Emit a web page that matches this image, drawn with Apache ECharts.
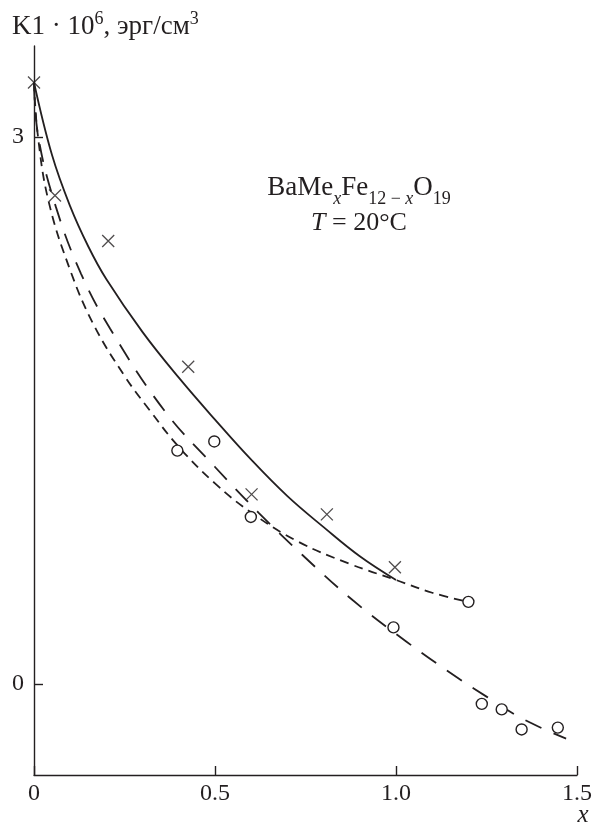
<!DOCTYPE html>
<html>
<head>
<meta charset="utf-8">
<script src="https://cdn.jsdelivr.net/npm/echarts@6/dist/echarts.min.js"></script>
<style>
  html, body { margin: 0; padding: 0; background: #fff; }
  #chart { width: 595px; height: 829px; }
</style>
</head>
<body>
<div id="chart"></div>
<script>
// y ticks (only 0 and 3 are marked)
const yTicks = [0, 3]

// measured points (x, K1·10^6)
const crossPoints = [[0, 3.30], [0.058, 2.68], [0.205, 2.43], [0.426, 1.74], [0.601, 1.04], [0.809, 0.93], [0.997, 0.64]]
const circlePoints = [[0.396, 1.28], [0.498, 1.33], [0.599, 0.916], [0.993, 0.31], [1.2, 0.45], [1.237, -0.11], [1.292, -0.14], [1.347, -0.25], [1.447, -0.24]]

// curves
const solidCurve = [[0, 3.30], [0.05, 2.90], [0.10, 2.62], [0.15, 2.40], [0.20, 2.22], [0.30, 1.93], [0.40, 1.68], [0.50, 1.45], [0.60, 1.23], [0.70, 1.03], [0.80, 0.86], [0.90, 0.70], [1.0, 0.57]]
const shortDashCurve = [[0, 3.30], [0.01, 3.02], [0.04, 2.65], [0.10, 2.27], [0.165, 1.97], [0.25, 1.69], [0.32, 1.50], [0.40, 1.30], [0.50, 1.10], [0.60, 0.94], [0.73, 0.78], [0.87, 0.66], [1.0, 0.57], [1.1, 0.50], [1.2, 0.45]]
const longDashCurve = [[0, 3.30], [0.012, 3.0], [0.06, 2.62], [0.13, 2.25], [0.21, 1.95], [0.36, 1.50], [0.50, 1.19], [0.62, 0.94], [0.74, 0.71], [0.88, 0.46], [1.03, 0.23], [1.18, 0.02], [1.25, -0.07], [1.33, -0.17], [1.41, -0.25], [1.47, -0.30]]

const ink = '#231f20'
const font = 'Liberation Serif'

const chart = echarts.init(document.getElementById('chart'))

const lineSeries = (data, dash) => ({
  type: 'line',
  data: data,
  smooth: 0.4,
  symbol: 'none',
  silent: true,
  lineStyle: { color: ink, width: 1.8, type: dash }
})

chart.setOption({
  animation: false,
  grid: { left: 34, right: 18, top: 46, bottom: 54 },
  xAxis: {
    type: 'value',
    min: 0,
    max: 1.5,
    interval: 0.5,
    axisLine: { onZero: false, lineStyle: { color: ink, width: 1.4 } },
    axisTick: { inside: true, length: 9, lineStyle: { color: ink, width: 1.4 } },
    splitLine: { show: false },
    axisLabel: {
      color: ink,
      fontFamily: font,
      fontSize: 24,
      margin: 7,
      formatter: v => (v === 0 ? '0' : v.toFixed(1))
    }
  },
  yAxis: {
    type: 'value',
    min: -0.5,
    max: 3.5,
    axisLine: { show: true, lineStyle: { color: ink, width: 1.4 } },
    axisTick: { show: true, inside: true, length: 9, customValues: yTicks, lineStyle: { color: ink, width: 1.4 } },
    splitLine: { show: false },
    axisLabel: { color: ink, fontFamily: font, fontSize: 24, margin: 10, customValues: yTicks }
  },
  graphic: [
    {
      type: 'text',
      left: 12,
      top: 10,
      style: {
        text: '{n|K1 · 10}{s|6}{n|, эрг/см}{s|3}',
        rich: {
          n: { fontFamily: font, fontSize: 27, lineHeight: 30, fill: ink, verticalAlign: 'bottom' },
          s: { fontFamily: font, fontSize: 18, lineHeight: 30, fill: ink, verticalAlign: 'top' }
        }
      }
    },
    {
      type: 'text',
      x: 359,
      y: 191,
      style: {
        text: '{n|BaMe}{i|x}{n|Fe}{b|12 − }{i|x}{n|O}{b|19}',
        align: 'center',
        verticalAlign: 'middle',
        rich: {
          n: { fontFamily: font, fontSize: 27, lineHeight: 34, fill: ink, verticalAlign: 'top' },
          b: { fontFamily: font, fontSize: 18, lineHeight: 34, fill: ink, verticalAlign: 'bottom' },
          i: { fontFamily: font, fontSize: 18, fontStyle: 'italic', lineHeight: 34, fill: ink, verticalAlign: 'bottom' }
        }
      }
    },
    {
      type: 'text',
      x: 359,
      y: 223,
      style: {
        text: '{i|T} = 20°C',
        align: 'center',
        verticalAlign: 'middle',
        fontFamily: font,
        fontSize: 26,
        fill: ink,
        rich: {
          i: { fontFamily: font, fontSize: 26, fontStyle: 'italic', fill: ink }
        }
      }
    },
    {
      type: 'text',
      x: 583,
      y: 815,
      style: {
        text: 'x',
        align: 'center',
        verticalAlign: 'middle',
        fontFamily: font,
        fontSize: 25,
        fontStyle: 'italic',
        fill: ink
      }
    }
  ],
  series: [
    lineSeries(solidCurve, 'solid'),
    lineSeries(shortDashCurve, [9, 6]),
    lineSeries(longDashCurve, [18, 13]),
    {
      type: 'scatter',
      data: crossPoints,
      symbol: 'path://M0,0L10,10M10,0L0,10',
      symbolSize: 12,
      silent: true,
      itemStyle: { color: 'rgba(0,0,0,0)', borderColor: ink, borderWidth: 1.3 },
      z: 5
    },
    {
      type: 'scatter',
      data: circlePoints,
      symbol: 'circle',
      symbolSize: 11,
      silent: true,
      itemStyle: { color: '#fff', borderColor: ink, borderWidth: 1.4, opacity: 1 },
      z: 5
    }
  ]
})

window.addEventListener('resize', () => chart.resize())
</script>
</body>
</html>
